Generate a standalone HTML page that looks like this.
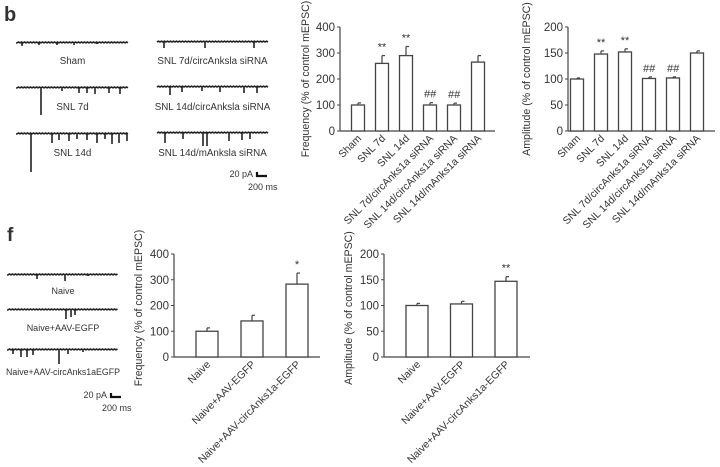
<!DOCTYPE html>
<html><head><meta charset="utf-8"><style>
body{margin:0;background:#fff;}
svg{display:block;font-family:"Liberation Sans",Arial,sans-serif;}
text{fill:#333;}
</style></head><body>
<svg id="fig" width="720" height="467" viewBox="0 0 720 467" xmlns="http://www.w3.org/2000/svg">
<text x="4" y="21" font-size="20" font-weight="bold" fill="#111">b</text>
<text x="7" y="241" font-size="19" font-weight="bold" fill="#111">f</text>
<g id="traces"></g>
</svg>
<script>
const svgNS="http://www.w3.org/2000/svg";
const fig=document.getElementById('fig');
// ---- chart data ----
const bCats=["Sham","SNL 7d","SNL 14d","SNL 7d/circAnks1a siRNA","SNL 14d/circAnks1a siRNA","SNL 14d/mAnks1a siRNA"];
const bFreq=[100,260,290,100,100,265];
const bFreqErr=[8,30,35,9,7,25];
const bFreqSig=["","**","**","##","##",""];
const bAmp=[100,148,152,101,102,150];
const bAmpErr=[2,6,6,3,2,4];
const bAmpSig=["","**","**","##","##",""];
const fCats=["Naive","Naive+AAV-EGFP","Naive+AAV-circAnks1a-EGFP"];
const fFreq=[100,140,283];
const fFreqErr=[13,22,43];
const fFreqSig=["","","*"];
const fAmp=[100,103,147];
const fAmpErr=[4,5,9];
const fAmpSig=["","","**"];
const freqTicks=[0,100,200,300,400];
const ampTicks=[0,50,100,150,200];

function el(tag,attrs,parent){const e=document.createElementNS(svgNS,tag);for(const k in attrs)e.setAttribute(k,attrs[k]);(parent||fig).appendChild(e);return e;}

function chart(o){
  const g=el('g',{});
  
  
  const yS=v=>o.y0-(v/o.max)*(o.y0-o.yTop);
  const xS=i=>o.x0+o.first+i*o.step;
  const ya=el('line',{x1:o.x0,y1:o.yTop,x2:o.x0,y2:o.y0,stroke:'#444','stroke-width':1.2},g);
  
  
  const xa=el('line',{x1:o.x0,y1:o.y0,x2:o.xEnd,y2:o.y0,stroke:'#444','stroke-width':1.2},g);
  
  
  o.ticks.forEach(t=>{
    const y=yS(t);
    el('line',{x1:o.x0-3,y1:y,x2:o.x0,y2:y,stroke:'#444'},g);
    const tx=el('text',{x:o.x0-5,y:y+4,'font-size':11.5,'text-anchor':'end'},g);
    tx.textContent=t;
    
    
  });
  const yt=el('text',{x:0,y:0,'font-size':10.6,'text-anchor':'middle',transform:`translate(${o.titleX},${o.titleY}) rotate(-90)`},g);
  yt.textContent=o.title;
  
  
  o.vals.forEach((v,i)=>{
    const cx=xS(i),top=yS(v),et=yS(v+o.err[i]);
    el('line',{x1:cx,y1:top,x2:cx,y2:et,stroke:'#444','stroke-width':1.2},g);
    el('line',{x1:cx,y1:et,x2:cx+3,y2:et,stroke:'#444','stroke-width':1.2},g);
    const r=el('rect',{x:cx-o.bw/2,y:top,width:o.bw,height:o.y0-top,fill:'#fff',stroke:'#444','stroke-width':1.3},g);
    
    
    if(o.sig[i]){
      const s=el('text',{x:cx,y:et-5,'font-size':11,'text-anchor':'middle','font-style':o.sig[i][0]=='#'?'italic':'normal'},g);
      s.textContent=o.sig[i];
      
      
    }
    const lb=el('text',{x:0,y:0,'font-size':10.5,'text-anchor':'end',transform:`translate(${cx+4},${o.y0+8}) rotate(-45)`},g);
    lb.textContent=o.cats[i];
    
    
  });
}
chart({name:'frequency-chart-b',cats:bCats,vals:bFreq,err:bFreqErr,sig:bFreqSig,ticks:freqTicks,max:400,x0:340,xEnd:495,y0:131,yTop:27,first:18,step:24,bw:13,title:'Frequency (% of control mEPSC)',titleX:309,titleY:79});
chart({name:'amplitude-chart-b',cats:bCats,vals:bAmp,err:bAmpErr,sig:bAmpSig,ticks:ampTicks,max:200,x0:568,xEnd:715,y0:131,yTop:27,first:9,step:24,bw:13,title:'Amplitude (% of control mEPSC)',titleX:530,titleY:79});
chart({name:'amplitude-chart-f',cats:fCats,vals:fAmp,err:fAmpErr,sig:fAmpSig,ticks:ampTicks,max:200,x0:384,xEnd:530,y0:357,yTop:254,first:33,step:44.5,bw:22,title:'Amplitude (% of control mEPSC)',titleX:352,titleY:308});
chart({name:'frequency-chart-f',cats:fCats,vals:fFreq,err:fFreqErr,sig:fFreqSig,ticks:freqTicks,max:400,x0:174,xEnd:320,y0:357,yTop:254,first:33,step:45,bw:22,title:'Frequency (% of control mEPSC)',titleX:142,titleY:308});

// ---- traces ----
const tg=document.getElementById('traces');
function trace(name,x1,x2,y,spikes,label,ly,fs){
  let d=`M${x1},${y}`;
  for(let x=x1;x<=x2;x+=1.5){d+=` L${x},${y+((Math.round(x*7)%3)-1)*0.8}`;}
  spikes.forEach(s=>{d+=` M${x1+s[0]},${y} L${x1+s[0]},${y+s[1]}`;});
  const p=el('path',{d:d,stroke:'#222','stroke-width':1.6,fill:'none'},tg);
  
  
  const t=el('text',{x:(x1+x2)/2,y:ly,'font-size':fs||9.8,'text-anchor':'middle'},tg);
  t.textContent=label;
  
  
}
trace('trace-sham',17,128,42,[[5,4],[22,3],[40,3],[57,3],[80,2]],'Sham',64);
trace('trace-snl7d',17,128,87,[[24,28],[45,4],[62,6],[70,6],[78,7],[92,6],[103,7]],'SNL 7d',110);
trace('trace-snl14d',17,128,133,[[14,39],[35,10],[42,7],[52,8],[60,6],[70,7],[80,10],[88,6],[95,11],[102,10],[110,8]],'SNL 14d',156);
trace('trace-snl7d-circ',157,268,42,[[7,6],[48,6],[97,6]],'SNL 7d/circAnksla siRNA',64);
trace('trace-snl14d-circ',157,268,87,[[13,8],[25,5],[45,4],[63,5],[87,6],[100,6]],'SNL 14d/circAnksla siRNA',110);
trace('trace-snl14d-m',157,268,133,[[8,10],[26,6],[46,13],[50,13],[72,8],[85,7],[93,6]],'SNL 14d/mAnksla siRNA',156);
trace('trace-naive',8,118,274,[[29,5],[57,7],[80,2]],'Naive',294,9);
trace('trace-naive-egfp',8,118,309,[[58,10],[63,8],[67,6]],'Naive+AAV-EGFP',331,9);
trace('trace-naive-circ',8,118,349,[[5,5],[13,8],[19,8],[25,6],[51,15],[60,5],[75,3]],'Naive+AAV-circAnks1aEGFP',375,8.8);
function scale(x,y,name){
  const g=el('g',{},tg);
  
  
  el('path',{d:`M${x},${y-4} L${x},${y} L${x+10},${y}`,stroke:'#111','stroke-width':2.2,fill:'none'},g);
  const a=el('text',{x:x-4,y:y+1,'font-size':9,'text-anchor':'end'},g);a.textContent='20 pA';
  const b=el('text',{x:x-9,y:y+14,'font-size':9},g);b.textContent='200 ms';
}
scale(257,176,'scale-bar-b');
scale(111,397,'scale-bar-f');
</script>
</body></html>
